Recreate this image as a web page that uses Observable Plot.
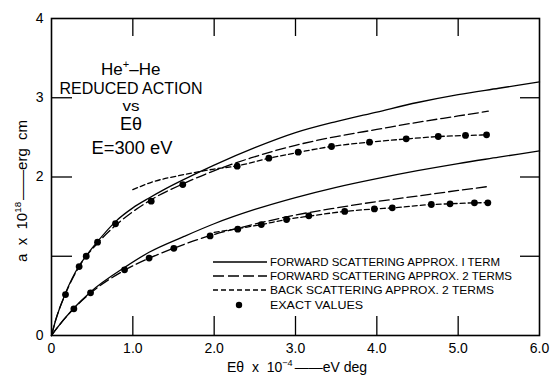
<!DOCTYPE html>
<html><head><meta charset="utf-8">
<script src="https://cdn.jsdelivr.net/npm/d3@7"></script>
<script src="https://cdn.jsdelivr.net/npm/@observablehq/plot@0.6"></script>
<style>
body{margin:0;background:#fff}
svg{font-family:"Liberation Sans",Arial,sans-serif;background:#fff}
</style>
</head><body><div id="chart"></div>
<script>
// ---- data ----
const upperSolidX = [0,0.05,0.17,0.34,0.43,0.57,0.79,1.0,1.2,1.4,1.63,2.0,2.5,3.0,3.5,4.0,4.5,5.0,5.5,6.0];
const upperSolidY = [0,0.19,0.53,0.88,1.01,1.19,1.44,1.61,1.735,1.85,1.97,2.15,2.37,2.56,2.70,2.82,2.94,3.04,3.12,3.20];
const upperLongX = [0,0.05,0.17,0.34,0.57,0.8,1.22,1.63,2.08,2.45,3.0,3.5,4.0,4.5,5.0,5.37];
const upperLongY = [0,0.19,0.52,0.87,1.17,1.40,1.71,1.92,2.11,2.24,2.40,2.51,2.60,2.69,2.77,2.83];
const upperShortX = [1.0,1.22,1.63,2.0,2.28,2.67,3.03,3.44,3.91,4.36,4.75,5.09,5.35];
const upperShortY = [1.84,1.93,2.03,2.10,2.14,2.235,2.31,2.385,2.44,2.48,2.51,2.524,2.532];
const upperExactX = [0.172,0.34,0.427,0.566,0.787,1.226,1.614,2.283,2.672,3.033,3.443,3.91,4.361,4.755,5.09,5.349];
const upperExactY = [0.517,0.87,1.0,1.177,1.41,1.695,1.905,2.136,2.237,2.313,2.385,2.44,2.482,2.511,2.524,2.532];

const lowerSolidX = [0,0.05,0.27,0.48,0.9,1.2,1.63,2.0,2.5,3.0,3.5,4.0,4.5,5.0,5.5,6.0];
const lowerSolidY = [0,0.07,0.34,0.55,0.86,1.05,1.25,1.41,1.59,1.74,1.87,1.98,2.08,2.17,2.25,2.33];
const lowerLongX = [0,0.05,0.27,0.48,0.9,1.2,1.5,1.95,2.3,2.6,3.0,3.5,4.0,4.5,5.0,5.37];
const lowerLongY = [0,0.07,0.335,0.535,0.825,0.975,1.10,1.26,1.355,1.43,1.52,1.61,1.69,1.76,1.83,1.88];
const lowerShortX = [2.0,2.3,2.58,2.89,3.16,3.6,3.97,4.19,4.67,4.9,5.2,5.37];
const lowerShortY = [1.30,1.35,1.40,1.464,1.505,1.565,1.597,1.611,1.653,1.662,1.674,1.676];
const lowerExactX = [0.275,0.48,0.898,1.2,1.504,1.95,2.29,2.58,2.89,3.164,3.605,3.97,4.19,4.67,4.9,5.2,5.365];
const lowerExactY = [0.336,0.539,0.829,0.977,1.10,1.256,1.342,1.40,1.464,1.51,1.565,1.597,1.611,1.653,1.662,1.674,1.674];

const xTickLabels = [0,1,2,3,4,5,6];
const xInnerTicks = [1,2,3,4,5];
const yTickLabels = [0,2,3,4];
const yInnerTicks = [1,2,3];

const legendLabels = [
  "FORWARD SCATTERING APPROX. I TERM",
  "FORWARD SCATTERING APPROX. 2 TERMS",
  "BACK SCATTERING APPROX. 2 TERMS",
  "EXACT VALUES"
];

// ---- tables ----
const pts = (xs, ys) => xs.map((x, i) => ({x, y: ys[i]}));
const W = 551, H = 383, mL = 51, mR = 12, mT = 18, mB = 48;
const pw = W - mL - mR, ph = H - mT - mB;
const LONG = "10,4", SHORT = "5,3";

const lineOpts = {x: "x", y: "y", stroke: "black", strokeWidth: 1.3, curve: "monotone-x"};

const chart = Plot.plot({
  width: W, height: H,
  marginLeft: mL, marginRight: mR, marginTop: mT, marginBottom: mB,
  x: {domain: [0, 6]},
  y: {domain: [0, 4]},
  marks: [
    Plot.frame({stroke: "black", strokeWidth: 1.6}),
    Plot.ruleX(xInnerTicks, {insetTop: ph - 19, stroke: "black", strokeWidth: 1.3}),
    Plot.ruleX(xInnerTicks, {insetBottom: ph - 18, stroke: "black", strokeWidth: 1.3}),
    Plot.ruleY(yInnerTicks, {insetRight: pw - 21, stroke: "black", strokeWidth: 1.3}),
    Plot.ruleY(yInnerTicks, {insetLeft: pw - 19, stroke: "black", strokeWidth: 1.3}),
    Plot.axisX(xTickLabels, {tickSize: 0, tickPadding: 8, fontSize: 14, label: null,
      tickFormat: d => d === 0 ? "0" : d.toFixed(1)}),
    Plot.axisY(yTickLabels, {tickSize: 0, tickPadding: 8, fontSize: 14, label: null,
      tickFormat: d => String(d)}),
    Plot.line(pts(upperSolidX, upperSolidY), lineOpts),
    Plot.line(pts(upperLongX, upperLongY), {...lineOpts, strokeDasharray: LONG}),
    Plot.line(pts(upperShortX, upperShortY), {...lineOpts, strokeDasharray: SHORT}),
    Plot.dot(pts(upperExactX, upperExactY), {x: "x", y: "y", r: 3.4, fill: "black"}),
    Plot.line(pts(lowerSolidX, lowerSolidY), lineOpts),
    Plot.line(pts(lowerLongX, lowerLongY), {...lineOpts, strokeDasharray: LONG}),
    Plot.line(pts(lowerShortX, lowerShortY), {...lineOpts, strokeDasharray: SHORT}),
    Plot.dot(pts(lowerExactX, lowerExactY), {x: "x", y: "y", r: 3.4, fill: "black"})
  ]
});
document.getElementById("chart").appendChild(chart);

// ---- annotations ----
const svg = d3.select(chart);
const g = svg.append("g").attr("fill", "black");

function addText(parent, str, x, y, size, len, anchor) {
  const t = parent.append("text").attr("x", x).attr("y", y)
    .attr("font-size", size).attr("text-anchor", anchor || "middle").text(str);
  if (len) t.attr("textLength", len).attr("lengthAdjust", "spacingAndGlyphs");
  return t;
}
// pieces placed one after another; sup pieces raised and smaller
function addRun(parent, pieces, x, y, size) {
  let cx = x;
  pieces.forEach(p => {
    const fs = p.sup ? size * 0.65 : size;
    const t = parent.append("text").attr("x", cx).attr("y", p.sup ? y - size * 0.42 : y)
      .attr("font-size", fs).attr("text-anchor", "start").text(p.t);
    cx += t.node().getComputedTextLength() + (p.gap || 0);
  });
}

// title block
addRun(g, [{t: "He"}, {t: "+", sup: true}, {t: "\u2013He"}], 101, 75, 17);
addText(g, "REDUCED ACTION", 131, 93.5, 17, 143);
addText(g, "vs", 131, 110.5, 14.5, 17);
addText(g, "E\u03B8", 131, 130, 18, 22);
addText(g, "E=300 eV", 132, 153.5, 18, 81);

// x-axis title
addRun(g, [{t: "E\u03B8  x  10"}, {t: "\u22124", sup: true, gap: 2}, {t: "\u2014\u2014eV deg"}], 227, 372, 14);

// y-axis title
const yt = g.append("g").attr("transform", "translate(27,262) rotate(-90)");
addRun(yt, [{t: "a  x  10"}, {t: "18", sup: true, gap: 2}, {t: "\u2014\u2014erg  cm"}], 0, 0, 15);

// legend
const lg = svg.append("g");
const rowY = [262, 276, 290, 305];
const textEnd = [500, 512, 494, 363];
const dashes = [null, "11,4", "5,3", "dot"];
rowY.forEach((yy, i) => {
  if (dashes[i] === "dot") {
    lg.append("circle").attr("cx", 239).attr("cy", yy).attr("r", 3.2).attr("fill", "black");
  } else {
    const l = lg.append("line").attr("x1", 213).attr("x2", 267).attr("y1", yy).attr("y2", yy)
      .attr("stroke", "black").attr("stroke-width", 1.3);
    if (dashes[i]) l.attr("stroke-dasharray", dashes[i]);
  }
  lg.append("text").attr("x", 270).attr("y", yy + 4).attr("font-size", 11)
    .attr("text-anchor", "start")
    .attr("textLength", textEnd[i] - 270).attr("lengthAdjust", "spacingAndGlyphs")
    .text(legendLabels[i]);
});
</script></body></html>
